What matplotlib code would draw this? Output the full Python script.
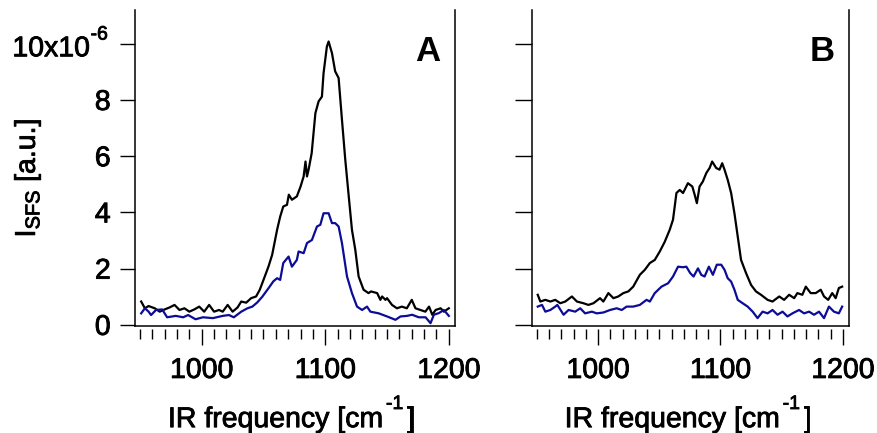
import matplotlib
matplotlib.use('Agg')
import matplotlib.pyplot as plt
import matplotlib.patheffects as pe
from matplotlib.text import Text
from matplotlib.ticker import MultipleLocator, FixedLocator

plt.rcParams['font.family'] = ['Liberation Sans', 'DejaVu Sans']
plt.rcParams['mathtext.fontset'] = 'custom'
plt.rcParams['mathtext.rm'] = 'Liberation Sans'
plt.rcParams['mathtext.it'] = 'Liberation Sans:italic'
plt.rcParams['mathtext.bf'] = 'Liberation Sans:bold'

# ---- panel A (values in units of 1e-6) ----
a_black_x = [951, 954, 957, 962, 966, 970, 974, 978, 982, 986, 990, 994, 998, 1002,
             1006, 1010, 1014, 1017, 1021, 1025, 1029, 1032, 1036, 1040, 1044, 1047,
             1050, 1054, 1057, 1061, 1063.5, 1066, 1069, 1070.5, 1073, 1077, 1080,
             1082.5, 1084, 1085.2, 1086.5, 1089, 1092, 1094.6, 1097.3, 1098.6, 1101.3,
             1102.7, 1105.4, 1108, 1110.8, 1113.5, 1116.2, 1119, 1121.6, 1124.3, 1127,
             1131, 1135, 1137, 1142, 1144.6, 1146, 1148.7, 1150, 1154, 1158, 1162,
             1166, 1170, 1173, 1177, 1181, 1184, 1186.6, 1189.3, 1193.4, 1196, 1200]
a_black_y = [0.83, 0.59, 0.67, 0.59, 0.47, 0.55, 0.62, 0.71, 0.53, 0.59, 0.47, 0.55,
             0.65, 0.47, 0.71, 0.47, 0.53, 0.47, 0.71, 0.47, 0.62, 0.83, 0.79, 0.95,
             1.01, 1.25, 1.60, 2.07, 2.49, 3.38, 3.85, 4.21, 4.27, 4.63, 4.45, 4.57,
             4.92, 5.28, 5.81, 5.28, 5.52, 6.11, 7.53, 7.95, 8.12, 8.95, 9.90, 10.08,
             9.67, 9.02, 8.78, 7.30, 5.87, 4.57, 3.38, 2.67, 1.72, 1.25, 1.13, 1.19,
             1.13, 0.89, 1.01, 0.89, 0.95, 0.71, 0.59, 0.65, 0.59, 0.89, 0.59, 0.53,
             0.47, 0.65, 0.36, 0.53, 0.59, 0.47, 0.59]

a_blue_x = [951, 954, 957, 959, 963, 968, 972, 979, 985, 989, 995, 1001, 1009, 1017,
            1022, 1026, 1032, 1037, 1041, 1045, 1049, 1054, 1058, 1061, 1063.5, 1066,
            1070.3, 1073, 1077, 1078.4, 1082.5, 1085.2, 1089.2, 1093.3, 1096, 1098.6,
            1102.7, 1105.4, 1108, 1110.8, 1113.5, 1117.6, 1121.6, 1125.7, 1129.8,
            1133.8, 1136.5, 1143.3, 1150, 1156.8, 1160.9, 1166.2, 1170.3, 1175.7,
            1181.2, 1185.2, 1187.9, 1192, 1196, 1200]
a_blue_y = [0.41, 0.59, 0.47, 0.35, 0.53, 0.55, 0.27, 0.32, 0.27, 0.35, 0.20, 0.27,
            0.24, 0.32, 0.35, 0.27, 0.47, 0.59, 0.65, 0.80, 1.00, 1.30, 1.55, 1.66,
            1.60, 2.20, 2.43, 2.07, 2.31, 2.61, 2.55, 2.91, 3.02, 3.50, 3.56, 3.97,
            3.97, 3.62, 3.62, 3.50, 2.91, 1.72, 1.13, 0.65, 0.53, 0.65, 0.47, 0.41,
            0.30, 0.18, 0.30, 0.32, 0.36, 0.27, 0.27, 0.06, 0.36, 0.42, 0.53, 0.32]

# ---- panel B (values in units of 1e-6) ----
b_black_x = [950.7, 952.8, 956.9, 961, 965, 969.1, 973.2, 978.6, 982.7, 988, 992.1,
             996.2, 1001.6, 1004.3, 1008.4, 1012.5, 1016.5, 1020.6, 1024.7, 1028.7,
             1034.1, 1038.2, 1042.3, 1046.3, 1050.4, 1054.5, 1058.5, 1061.2, 1062.6,
             1064, 1066.7, 1069.4, 1073.4, 1077, 1078.9, 1080.7, 1082.9, 1085.6, 1088.4,
             1091.1, 1093.2, 1096.5, 1099.2, 1101.4, 1103.3, 1105.9, 1108.7, 1111.4,
             1114.1, 1116.8, 1120.9, 1125, 1129, 1133.1, 1138.5, 1142.5, 1148, 1152,
             1156.1, 1160.2, 1162.8, 1166.9, 1169.7, 1173.7, 1177.8, 1181.9, 1184.6,
             1188, 1191.3, 1194.1, 1196.7, 1199.4]
b_black_y = [1.07, 0.83, 0.89, 0.83, 0.89, 0.77, 0.83, 1.01, 0.83, 0.77, 0.71, 0.77,
             0.95, 0.83, 1.13, 0.95, 1.01, 1.13, 1.19, 1.36, 1.78, 1.96, 2.20, 2.31,
             2.61, 2.96, 3.38, 3.74, 4.21, 4.69, 4.80, 4.69, 5.04, 4.92, 4.63, 4.33,
             4.92, 5.10, 5.40, 5.58, 5.81, 5.58, 5.52, 5.75, 5.52, 5.16, 4.69, 3.97,
             3.14, 2.31, 1.84, 1.42, 1.19, 1.07, 0.89, 0.83, 1.01, 0.89, 1.07, 0.95,
             1.13, 1.07, 1.36, 1.13, 1.13, 1.25, 1.01, 0.89, 1.13, 0.95, 1.31, 1.36]

b_blue_x = [950.7, 954.2, 956.9, 961, 965, 966.7, 971.8, 975.9, 981.3, 985.4, 989.4,
            994.9, 998.9, 1004.3, 1009.8, 1015.2, 1019.3, 1023.3, 1028.7, 1034.1,
            1039.6, 1042.3, 1046.3, 1051.8, 1057.2, 1061.2, 1065.3, 1069.4, 1072.1,
            1075.3, 1078, 1081.6, 1084.3, 1087, 1090.5, 1093.8, 1097, 1100.6, 1103.3,
            1105.9, 1108.7, 1111.4, 1114.1, 1118.1, 1122.2, 1126.3, 1130.3, 1134.4,
            1138.5, 1142.5, 1146.6, 1150.7, 1154.7, 1158.8, 1164.2, 1168.3, 1172.4,
            1176.4, 1180.5, 1184.6, 1188.6, 1192.7, 1196.7, 1199.4]
b_blue_y = [0.65, 0.71, 0.47, 0.53, 0.65, 0.71, 0.36, 0.53, 0.47, 0.59, 0.41, 0.47,
            0.41, 0.44, 0.53, 0.59, 0.53, 0.65, 0.65, 0.71, 0.89, 0.83, 1.13, 1.36,
            1.48, 1.72, 2.07, 2.05, 2.07, 1.84, 1.72, 2.01, 1.78, 1.72, 2.07, 1.78,
            2.14, 2.14, 1.96, 1.66, 1.54, 1.25, 0.89, 0.77, 0.65, 0.47, 0.24, 0.47,
            0.41, 0.53, 0.36, 0.47, 0.30, 0.41, 0.53, 0.41, 0.47, 0.36, 0.47, 0.24,
            0.65, 0.47, 0.41, 0.65]

y_ticks = [0, 2, 4, 6, 8, 10]
y_tick_labels = ['0', '2', '4', '6', '8', '']
x_ticks = [1000, 1100, 1200]

BLUE = '#0c0c96'
FS = 20.5
SUP = 14

fig = plt.figure(figsize=(8.78, 4.33), dpi=100)
ax_a = fig.add_axes([135 / 878, 1 - 326 / 433, 320 / 878, 316 / 433])
ax_b = fig.add_axes([532 / 878, 1 - 326 / 433, 317 / 878, 316 / 433])


def xlabel(ax):
    # "IR frequency [cm^-1]" built from pieces so the exponent sits high like Igor
    t1 = ax.text(0.103, -0.32, 'IR frequency [cm', transform=ax.transAxes,
                 fontsize=FS, ha='left', va='baseline')
    t2 = ax.annotate('-1', xy=(1, 1), xycoords=t1, xytext=(2, 8),
                     textcoords='offset points', fontsize=SUP, ha='left', va='top')
    ax.annotate(']', xy=(1, 0), xycoords=(t2, t1), xytext=(2.5, 0),
                textcoords='offset points', fontsize=FS, ha='left', va='bottom')


def style(ax, letter, show_ylabels):
    ax.set_xlim(946, 1205)
    ax.set_ylim(-0.04, 11.2)
    ax.spines['top'].set_visible(False)
    for s in ('left', 'right'):
        ax.spines[s].set_linewidth(1.1)
    # detached x axis: ticks hang a few pixels below the frame
    ax.spines['bottom'].set_position(('outward', 2.5))
    ax.spines['bottom'].set_visible(False)
    ax.plot([0, 1], [0, 0], transform=ax.transAxes, color='k', lw=1.1,
            clip_on=False, solid_capstyle='projecting')

    ax.xaxis.set_major_locator(FixedLocator(x_ticks))
    ax.xaxis.set_minor_locator(MultipleLocator(10))
    ax.tick_params(axis='x', which='major', direction='out', length=11.5,
                   width=1.0, labelsize=FS, pad=9)
    ax.tick_params(axis='x', which='minor', direction='out', length=7, width=1.0)
    xlabel(ax)

    ax.yaxis.set_major_locator(FixedLocator(y_ticks))
    ax.tick_params(axis='y', which='major', direction='out', length=10.5,
                   width=1.0, labelsize=FS, pad=7, right=False)
    if show_ylabels:
        ax.set_yticklabels(y_tick_labels)
        # top tick label "10x10^-6"
        t = ax.annotate('10x10', xy=(0, 10), xycoords=('axes fraction', 'data'),
                        xytext=(-32.5, -4), textcoords='offset points',
                        fontsize=FS, ha='right', va='center')
        ax.annotate('-6', xy=(1, 1), xycoords=t, xytext=(0.5, 7),
                    textcoords='offset points', fontsize=SUP, ha='left', va='top')
    else:
        ax.tick_params(axis='y', labelleft=False, length=12)

    ax.text(0.915, 0.87, letter, transform=ax.transAxes, fontsize=25,
            fontweight='bold', ha='center', va='center')


ax_a.plot(a_black_x, a_black_y, color='black', lw=1.6)
ax_a.plot(a_blue_x, a_blue_y, color=BLUE, lw=1.6)
style(ax_a, 'A', True)

ax_b.plot(b_black_x, b_black_y, color='black', lw=1.6)
ax_b.plot(b_blue_x, b_blue_y, color=BLUE, lw=1.6)
style(ax_b, 'B', False)

fig.text(28 / 878, 1 - 178 / 433, 'I$_{\\mathregular{SFS}}$ [a.u.]', fontsize=FS,
         rotation=90, ha='center', va='center')

# slightly heavier strokes on the text, like the original export
for t in fig.findobj(Text):
    if t.get_text() not in ('A', 'B'):
        t.set_path_effects([pe.withStroke(linewidth=0.6, foreground='black')])

fig.savefig('out.png', dpi=100)
